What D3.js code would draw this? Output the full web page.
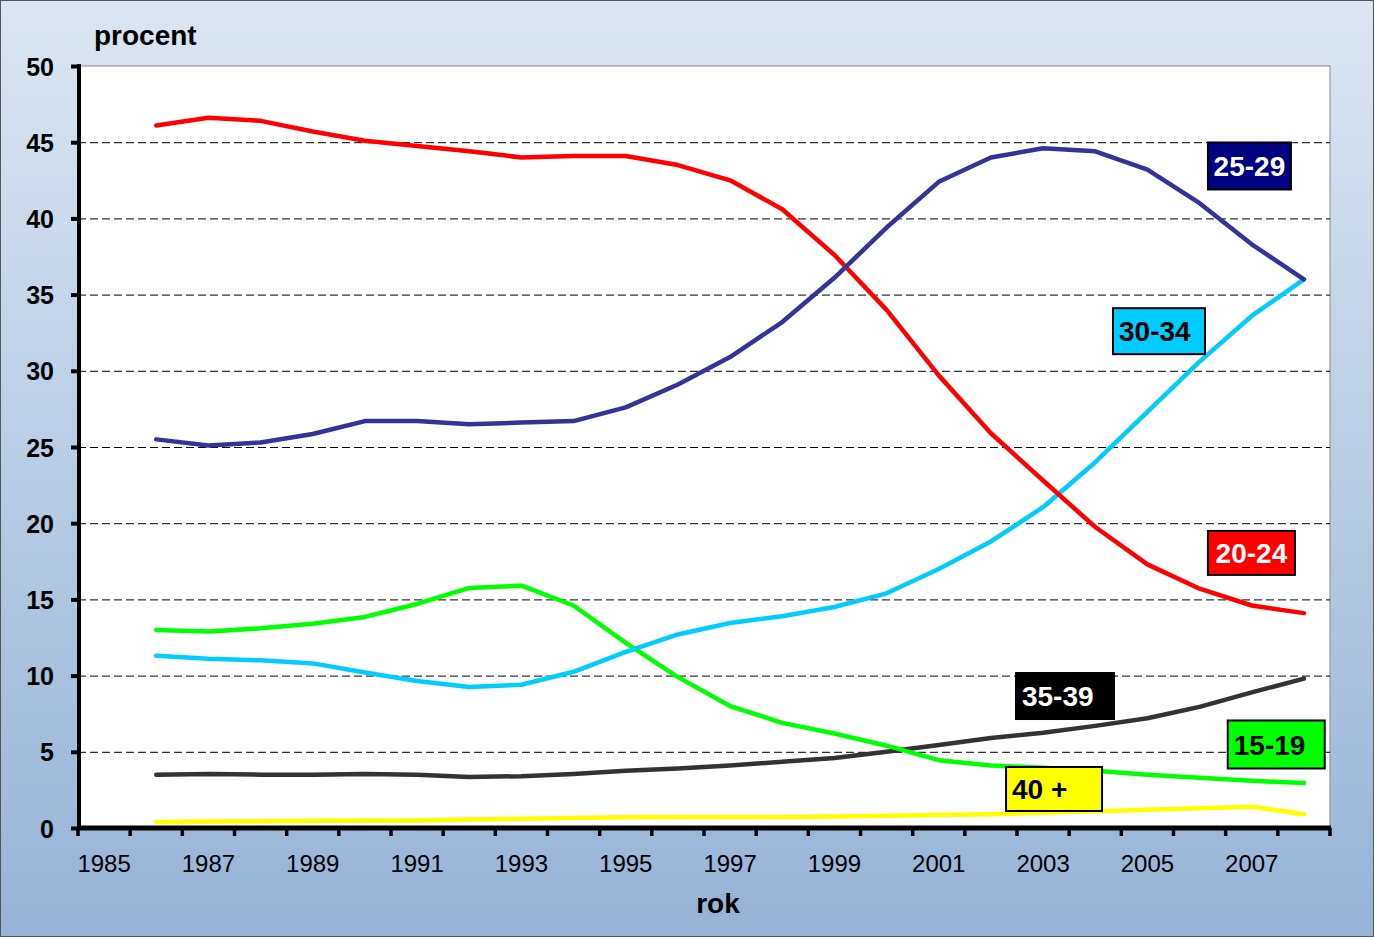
<!DOCTYPE html>
<html><head><meta charset="utf-8">
<script src="https://cdn.jsdelivr.net/npm/d3@7"></script>
<style>html,body{margin:0;padding:0;overflow:hidden}svg{display:block}text{font-family:"Liberation Sans",Arial,sans-serif;font-weight:bold}</style>
</head><body>
<script>
const years = d3.range(1985, 2009);
const dataYears = d3.range(1986, 2009);
const yTicks = [0,5,10,15,20,25,30,35,40,45,50];
const xLabels = [1985,1987,1989,1991,1993,1995,1997,1999,2001,2003,2005,2007];
const s15_19 = [13.0,12.9,13.1,13.4,13.85,14.7,15.75,15.9,14.6,12.15,9.9,8.0,6.9,6.2,5.4,4.45,4.1,3.95,3.75,3.5,3.3,3.1,2.95];
const s20_24 = [46.1,46.6,46.4,45.7,45.1,44.75,44.4,44.0,44.1,44.1,43.5,42.5,40.6,37.6,34.0,29.7,25.9,22.8,19.75,17.3,15.7,14.6,14.1];
const s25_29 = [25.5,25.1,25.3,25.85,26.7,26.7,26.5,26.6,26.7,27.6,29.1,30.9,33.2,36.1,39.4,42.4,44.0,44.6,44.4,43.2,41.0,38.3,36.0];
const s30_34 = [11.3,11.1,11.0,10.8,10.2,9.65,9.25,9.4,10.25,11.55,12.7,13.45,13.9,14.5,15.4,17.0,18.8,21.05,24.0,27.3,30.6,33.6,36.0];
const s35_39 = [3.5,3.55,3.5,3.5,3.55,3.5,3.35,3.4,3.55,3.75,3.9,4.1,4.35,4.6,5.0,5.45,5.9,6.25,6.7,7.2,7.95,8.9,9.8];
const s40 = [0.4,0.42,0.45,0.48,0.5,0.5,0.55,0.6,0.65,0.7,0.72,0.72,0.72,0.75,0.8,0.85,0.9,1.0,1.1,1.2,1.3,1.4,0.9];
const seriesNames = ["15-19","20-24","25-29","30-34","35-39","40 +"];
const seriesColors = ["#00FF00","#FF0000","#333399","#00CCFF","#333333","#FFFF00"];
const labelFill = ["#00FF00","#FF0000","#000080","#00CCFF","#000000","#FFFF00"];
const labelText = ["#000","#fff","#fff","#000","#fff","#000"];
const allSeries = [s15_19,s20_24,s25_29,s30_34,s35_39,s40];

const W=1374,H=937;
const svg=d3.select("body").append("svg").attr("width",W).attr("height",H);
const defs=svg.append("defs");
const g=defs.append("linearGradient").attr("id","bg").attr("x1",0).attr("y1",0).attr("x2",0).attr("y2",1);
g.append("stop").attr("offset","0%").attr("stop-color","#DCE6F2");
g.append("stop").attr("offset","100%").attr("stop-color","#95B3D7");
svg.append("rect").attr("x",0.5).attr("y",0.5).attr("width",W-1).attr("height",H-1).attr("fill","url(#bg)").attr("stroke","#555").attr("stroke-width",1);

const L=78,R=1330,T=66,B=828;
const x=d3.scaleBand().domain(years).range([L,R]).padding(0);
const y=d3.scaleLinear().domain([0,50]).range([B,T]);
const cx=yr=>x(yr)+x.bandwidth()/2;
const fx=yr=>L+(yr-1985)*x.bandwidth();

svg.append("rect").attr("x",L).attr("y",T).attr("width",R-L).attr("height",B-T).attr("fill","#fff").attr("stroke","#888").attr("stroke-width",1);

// gridlines
svg.append("g").selectAll("line").data(yTicks.filter(v=>v>0&&v<50)).join("line")
 .attr("x1",L).attr("x2",R).attr("y1",d=>y(d)+0.5).attr("y2",d=>y(d)+0.5)
 .attr("stroke","#000").attr("stroke-width",1).attr("stroke-dasharray","8,4");

// y axis
const ya=svg.append("g").attr("transform",`translate(${L},0)`)
 .call(d3.axisLeft(y).tickValues(yTicks).tickSize(7).tickPadding(17));
ya.select(".domain").attr("stroke","#000").attr("stroke-width",4).attr("d",`M1,${T-2}V${B}`);
ya.selectAll(".tick line").attr("stroke","#000").attr("stroke-width",4);
ya.selectAll(".tick text").attr("font-size",25).attr("fill","#000").attr("dy","0.36em").attr("font-family","Liberation Sans, Arial, sans-serif").style("font-weight","bold");

// x axis
const xa=svg.append("g").attr("transform",`translate(0,${B})`);
xa.append("line").attr("x1",L-1).attr("x2",R+1).attr("y1",0).attr("y2",0).attr("stroke","#000").attr("stroke-width",5);
const bounds=years.map(v=>x(v)).concat([R]);
xa.selectAll("line.tk").data(bounds).join("line").attr("class","tk")
 .attr("x1",d=>d).attr("x2",d=>d).attr("y1",0).attr("y2",8).attr("stroke","#000").attr("stroke-width",3.5);
xa.selectAll("text").data(xLabels).join("text")
 .attr("x",d=>cx(d)).attr("y",44).attr("text-anchor","middle").attr("font-size",24).style("font-weight","normal").attr("fill","#000").text(d=>d);

// lines
const line=d3.line().x((d,i)=>cx(dataYears[i])).y(d=>y(d));
const order=[5,4,0,3,1,2];
svg.append("g").selectAll("path").data(order).join("path")
 .attr("d",i=>line(allSeries[i])).attr("fill","none").attr("stroke",i=>seriesColors[i])
 .attr("stroke-width",4.5).attr("stroke-linejoin","round").attr("stroke-linecap","round");

// labels anchored in data space (fractional year of left edge, value of centre)
const boxes=[
 {i:2, yr:2006.66, v:43.44, w:83, h:47},
 {i:3, yr:2004.84, v:32.6, w:92, h:46},
 {i:1, yr:2006.66, v:18.05, w:87, h:44},
 {i:4, yr:2002.98, v:8.66, w:98, h:46},
 {i:0, yr:2007.04, v:5.48, w:97, h:48},
 {i:5, yr:2002.79, v:2.56, w:96, h:44}
];
const lab=svg.append("g").selectAll("g").data(boxes).join("g")
 .attr("transform",d=>`translate(${fx(d.yr)},${y(d.v)-d.h/2})`);
lab.append("rect").attr("width",d=>d.w).attr("height",d=>d.h).attr("fill",d=>labelFill[d.i]).attr("stroke","#000").attr("stroke-width",2);
lab.append("text").attr("x",d=>d.i===5?6:(d.i===4||d.i===3||d.i===0?6:d.w/2)).attr("y",d=>d.h/2).attr("dy","0.36em")
 .attr("text-anchor",d=>(d.i===5||d.i===4||d.i===3||d.i===0)?"start":"middle").attr("font-size",28).attr("fill",d=>labelText[d.i]).text(d=>seriesNames[d.i]);

// axis titles
svg.append("text").attr("x",94).attr("y",45).attr("font-size",28).attr("fill","#000").text("procent");
svg.append("text").attr("x",718).attr("y",913).attr("text-anchor","middle").attr("font-size",28).attr("fill","#000").text("rok");
</script>
</body></html>
